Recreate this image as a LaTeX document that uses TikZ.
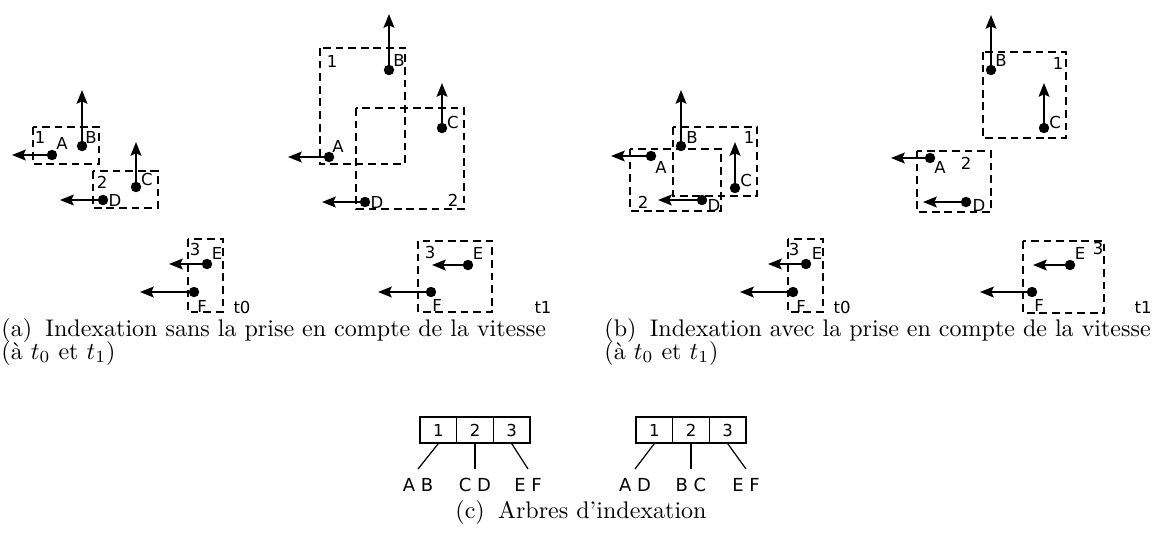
\documentclass[tikz,border=0pt]{standalone}
\usepackage{fontspec}
\newfontfamily\dvs{DejaVu Sans}
\usetikzlibrary{arrows.meta}
\begin{document}
\begin{tikzpicture}[x=0.412pt,y=-0.412pt,
  dotnode/.style={circle,fill,inner sep=0pt,minimum size=4.3pt},
  vec/.style={line width=0.9pt,-{Stealth[length=5.6pt,width=4.4pt,inset=0.9pt]}},
  zone/.style={line width=0.5pt,dash pattern=on 3.2pt off 2pt},
  lbl/.style={font=\dvs\fontsize{6.8}{8}\selectfont,inner sep=0pt},
  cell/.style={draw,line width=0.5pt,minimum width=15.1pt,minimum height=10.7pt,inner sep=0pt,font=\dvs\fontsize{6.8}{8}\selectfont},
  leaf/.style={font=\dvs\fontsize{7.4}{9}\selectfont,inner xsep=0pt,inner ysep=3.6pt,anchor=north},
  captxt/.style={font=\fontsize{9.9}{12}\selectfont,inner sep=0pt,anchor=base west}]
\useasboundingbox (0,0) rectangle (1152,532);

% ---------- (a) t0 ----------
\draw[zone] (33,127) rectangle (99,164);
\draw[zone] (93,171) rectangle (158,208);
\node[lbl] (a0n1) at (40,137) {1};
\node[lbl] (a0n2) at (102,182) {2};
\node[dotnode] (a0A) at (52,155) {}; \coordinate (a0Ae) at (12,155);
\node[dotnode] (a0B) at (82,146) {}; \coordinate (a0Be) at (82,90);
\node[dotnode] (a0C) at (136,187) {}; \coordinate (a0Ce) at (136,142);
\node[dotnode] (a0D) at (103,200) {}; \coordinate (a0De) at (60,200);
\draw[vec] (a0A.center) -- (a0Ae);
\draw[vec] (a0B.center) -- (a0Be);
\draw[vec] (a0C.center) -- (a0Ce);
\draw[vec] (a0D.center) -- (a0De);
\node[lbl] (a0lA) at (62,143) {A};
\node[lbl] (a0lB) at (91,137) {B};
\node[lbl] (a0lC) at (147,179) {C};
\node[lbl] (a0lD) at (115,200) {D};

% ---------- (a) t1 ----------
\draw[zone] (320,48) rectangle (405,164);
\draw[zone] (356,108) rectangle (464,209);
\node[lbl] (a1n1) at (332,61) {1};
\node[lbl] (a1n2) at (453,200) {2};
\node[dotnode] (a1A) at (329,157) {}; \coordinate (a1Ae) at (288,157);
\node[dotnode] (a1B) at (389,70) {}; \coordinate (a1Be) at (389,14);
\node[dotnode] (a1C) at (442,128) {}; \coordinate (a1Ce) at (442,83);
\node[dotnode] (a1D) at (365,202) {}; \coordinate (a1De) at (322,202);
\draw[vec] (a1A.center) -- (a1Ae);
\draw[vec] (a1B.center) -- (a1Be);
\draw[vec] (a1C.center) -- (a1Ce);
\draw[vec] (a1D.center) -- (a1De);
\node[lbl] (a1lA) at (338,146) {A};
\node[lbl] (a1lB) at (399,60) {B};
\node[lbl] (a1lC) at (453,122) {C};
\node[lbl] (a1lD) at (377,202) {D};

% ---------- (a) bottom t0 ----------
\draw[zone] (188,239) rectangle (223,312);
\node[lbl] (a0n3) at (195,249) {3};
\node[dotnode] (a0E) at (207,264) {}; \coordinate (a0Ee) at (169,264);
\node[dotnode] (a0F) at (194,292) {}; \coordinate (a0Fe) at (140,292);
\draw[vec] (a0E.center) -- (a0Ee);
\draw[vec] (a0F.center) -- (a0Fe);
\node[lbl] (a0lE) at (217,253) {E};
\node[lbl] (a0lF) at (202,306) {F};
\node[lbl] (a0t) at (242,307) {t0};

% ---------- (a) bottom t1 ----------
\draw[zone] (418,241) rectangle (492,312);
\node[lbl] (a1n3) at (430,252) {3};
\node[dotnode] (a1E) at (468,265) {}; \coordinate (a1Ee) at (432,265);
\node[dotnode] (a1F) at (431,292) {}; \coordinate (a1Fe) at (378,292);
\draw[vec] (a1E.center) -- (a1Ee);
\draw[vec] (a1F.center) -- (a1Fe);
\node[lbl] (a1lE) at (478,253) {E};
\node[lbl] (a1lF) at (437,305) {F};
\node[lbl] (a1t) at (543,307) {t1};

% ---------- (b) t0 ----------
\draw[zone] (673,127) rectangle (757,196);
\draw[zone] (630,149) rectangle (721,211);
\node[lbl] (b0n1) at (749,137) {1};
\node[lbl] (b0n2) at (643,202) {2};
\node[dotnode] (b0A) at (651,156) {}; \coordinate (b0Ae) at (611,156);
\node[dotnode] (b0B) at (681,146) {}; \coordinate (b0Be) at (681,90);
\node[dotnode] (b0C) at (735,188) {}; \coordinate (b0Ce) at (735,142);
\node[dotnode] (b0D) at (702,200) {}; \coordinate (b0De) at (658,200);
\draw[vec] (b0A.center) -- (b0Ae);
\draw[vec] (b0B.center) -- (b0Be);
\draw[vec] (b0C.center) -- (b0Ce);
\draw[vec] (b0D.center) -- (b0De);
\node[lbl] (b0lA) at (661,167) {A};
\node[lbl] (b0lB) at (692,137) {B};
\node[lbl] (b0lC) at (746,180) {C};
\node[lbl] (b0lD) at (714,205) {D};

% ---------- (b) t1 ----------
\draw[zone] (983,52) rectangle (1066,138);
\draw[zone] (917,151) rectangle (991,212);
\node[lbl] (b1n1) at (1058,63) {1};
\node[lbl] (b1n2) at (966,163) {2};
\node[dotnode] (b1A) at (930,158) {}; \coordinate (b1Ae) at (891,158);
\node[dotnode] (b1B) at (991,70) {}; \coordinate (b1Be) at (991,15);
\node[dotnode] (b1C) at (1044,128) {}; \coordinate (b1Ce) at (1044,83);
\node[dotnode] (b1D) at (966,202) {}; \coordinate (b1De) at (923,202);
\draw[vec] (b1A.center) -- (b1Ae);
\draw[vec] (b1B.center) -- (b1Be);
\draw[vec] (b1C.center) -- (b1Ce);
\draw[vec] (b1D.center) -- (b1De);
\node[lbl] (b1lA) at (940,167) {A};
\node[lbl] (b1lB) at (1001,60) {B};
\node[lbl] (b1lC) at (1055,122) {C};
\node[lbl] (b1lD) at (979,205) {D};

% ---------- (b) bottom t0 ----------
\draw[zone] (788,239) rectangle (823,312);
\node[lbl] (b0n3) at (794,249) {3};
\node[dotnode] (b0E) at (806,264) {}; \coordinate (b0Ee) at (768,264);
\node[dotnode] (b0F) at (793,292) {}; \coordinate (b0Fe) at (740,292);
\draw[vec] (b0E.center) -- (b0Ee);
\draw[vec] (b0F.center) -- (b0Fe);
\node[lbl] (b0lE) at (817,253) {E};
\node[lbl] (b0lF) at (801,306) {F};
\node[lbl] (b0t) at (842,307) {t0};

% ---------- (b) bottom t1 ----------
\draw[zone] (1023,241) rectangle (1104,313);
\node[lbl] (b1n3) at (1098,248) {3};
\node[dotnode] (b1E) at (1070,265) {}; \coordinate (b1Ee) at (1033,265);
\node[dotnode] (b1F) at (1032,292) {}; \coordinate (b1Fe) at (980,292);
\draw[vec] (b1E.center) -- (b1Ee);
\draw[vec] (b1F.center) -- (b1Fe);
\node[lbl] (b1lE) at (1080,253) {E};
\node[lbl] (b1lF) at (1039,305) {F};
\node[lbl] (b1t) at (1143,307) {t1};

% ---------- (c) trees ----------
\node[cell] (l1) at (438.3,430) {1};
\node[cell] (l2) at (475,430) {2};
\node[cell] (l3) at (511.7,430) {3};
\node[leaf] (lAB) at (418,469) {A B};
\node[leaf] (lCD) at (475,469) {C D};
\node[leaf] (lEF) at (528,469) {E F};
\draw[line width=0.5pt] (l1.south) -- (lAB.north);
\draw[line width=0.5pt] (l2.south) -- (lCD.north);
\draw[line width=0.5pt] (l3.south) -- (lEF.north);

\node[cell] (r1) at (654.3,430) {1};
\node[cell] (r2) at (691,430) {2};
\node[cell] (r3) at (727.7,430) {3};
\node[leaf] (rAD) at (635,469) {A D};
\node[leaf] (rBC) at (691,469) {B C};
\node[leaf] (rEF) at (746,469) {E F};
\draw[line width=0.5pt] (r1.south) -- (rAD.north);
\draw[line width=0.5pt] (r2.south) -- (rBC.north);
\draw[line width=0.5pt] (r3.south) -- (rEF.north);

% ---------- captions ----------
\node[captxt] (capa1) at (1,336) {(a)\hspace{0.55em}Indexation sans la prise en compte de la vitesse};
\node[captxt] (capa2) at (1,359) {(à $t_0$ et $t_1$)};
\node[captxt] (capb1) at (604,336) {(b)\hspace{0.55em}Indexation avec la prise en compte de la vitesse};
\node[captxt] (capb2) at (604,359) {(à $t_0$ et $t_1$)};
\node[captxt,anchor=base] (capc) at (581,518) {(c)\hspace{0.55em}Arbres d'indexation};
\end{tikzpicture}
\end{document}
